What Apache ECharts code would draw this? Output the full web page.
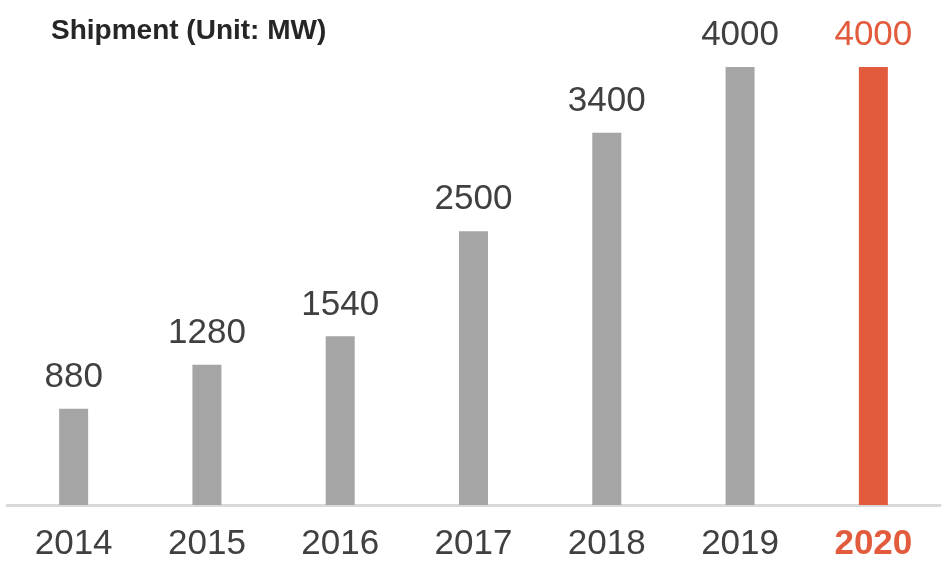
<!DOCTYPE html>
<html>
<head>
<meta charset="utf-8">
<script src="https://cdn.jsdelivr.net/npm/echarts@6/dist/echarts.min.js"></script>
<style>
  html, body { margin: 0; padding: 0; background: #fff; }
  #chart { width: 951px; height: 562px; }
</style>
</head>
<body>
<div id="chart"></div>
<script>
const years = ['2014', '2015', '2016', '2017', '2018', '2019', '2020'];
const shipments = [880, 1280, 1540, 2500, 3400, 4000, 4000];

const GRAY = '#a5a5a5';
const RED = '#e35b3d';
const TEXT = '#404040';

const chart = echarts.init(document.getElementById('chart'));

// last year is highlighted in red
const barData = shipments.map((v, i) => {
  const last = i === shipments.length - 1;
  return {
    value: v,
    itemStyle: { color: last ? RED : GRAY },
    label: { color: last ? RED : TEXT },
  };
});

chart.setOption({
  animation: false,
  title: {
    text: 'Shipment (Unit: MW)',
    left: 46,
    top: 12,
    textStyle: {
      fontFamily: 'Liberation Sans, Arial, sans-serif',
      fontSize: 28,
      fontWeight: 'bold',
      color: '#262626',
    },
  },
  grid: {
    left: 7,
    right: 11,
    top: 67,
    bottom: 55,
  },
  xAxis: {
    type: 'category',
    data: years,
    axisLine: { lineStyle: { color: '#d9d9d9', width: 3 } },
    axisTick: { show: false },
    axisLabel: {
      interval: 0,
      margin: 22,
      fontFamily: 'Liberation Sans, Arial, sans-serif',
      fontSize: 35,
      color: TEXT,
      formatter: (v) => (v === '2020' ? '{hi|' + v + '}' : v),
      rich: {
        hi: {
          fontFamily: 'Liberation Sans, Arial, sans-serif',
          fontSize: 35,
          fontWeight: 'bold',
          color: RED,
        },
      },
    },
  },
  yAxis: {
    type: 'value',
    min: 0,
    max: 4000,
    show: false,
  },
  series: [
    {
      type: 'bar',
      data: barData,
      barWidth: 29,
      label: {
        show: true,
        position: 'top',
        distance: 14,
        fontFamily: 'Liberation Sans, Arial, sans-serif',
        fontSize: 35,
      },
    },
  ],
});
</script>
</body>
</html>
